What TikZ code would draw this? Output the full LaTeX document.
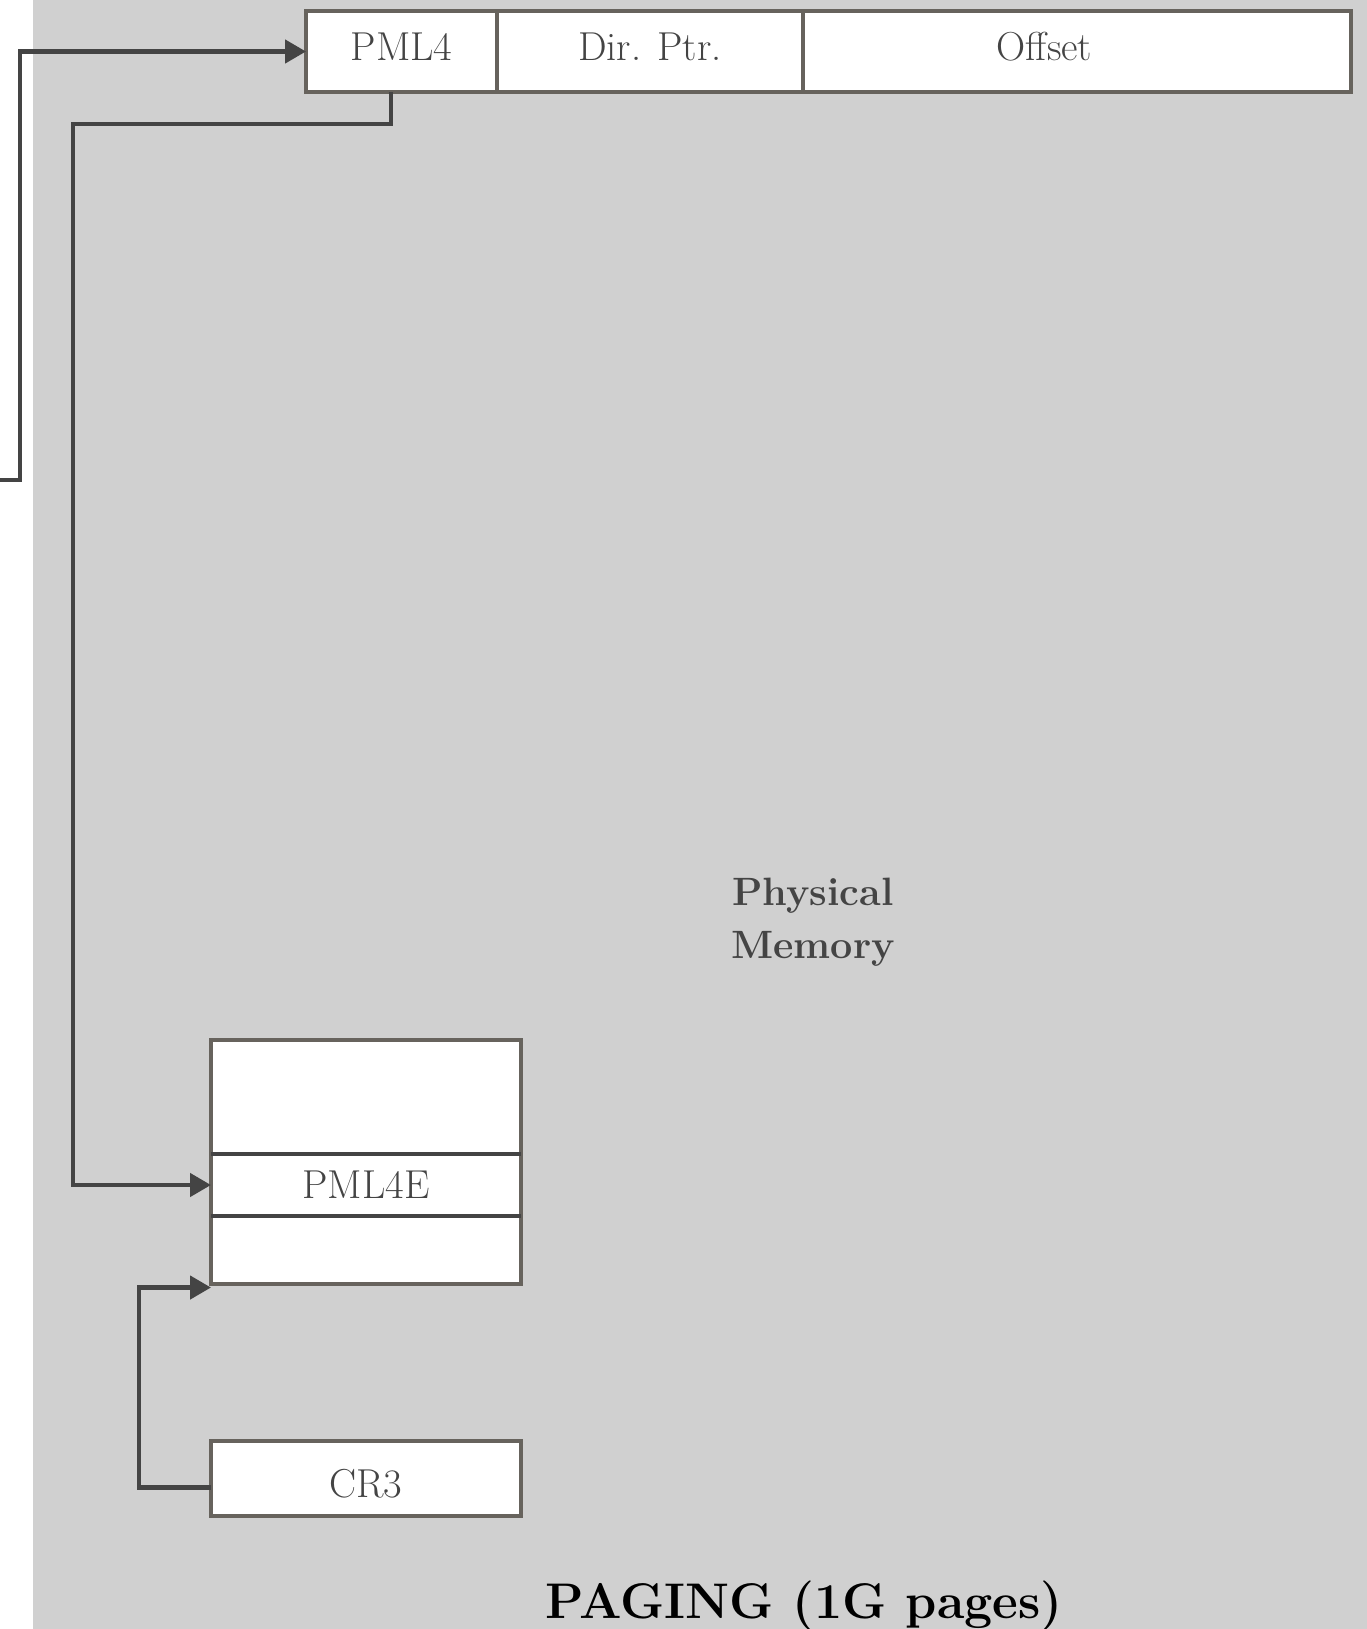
\documentclass[tikz,border=0pt]{standalone}
\usepackage{fontspec}
\usetikzlibrary{arrows.meta,positioning}
\definecolor{bggray}{HTML}{D0D0D0}
\definecolor{edgegray}{HTML}{67635D}
\definecolor{linegray}{HTML}{444444}
\begin{document}
\begin{tikzpicture}[
  field/.style={rectangle, draw=edgegray, fill=white, line width=2.4pt, outer sep=0pt, minimum height=1.62cm, inner sep=0pt, text depth=0.2cm, text=linegray, font=\fontsize{23}{28}\selectfont},
  table/.style={rectangle, draw=edgegray, fill=white, line width=2.4pt, outer sep=0pt, minimum width=6.2cm, inner sep=0pt},
  entry/.style={rectangle, minimum width=6.2cm, minimum height=1.24cm, inner sep=0pt, outer sep=0pt, text=linegray, font=\fontsize{23}{28}\selectfont},
  rule/.style={draw=linegray, line width=2.4pt},
  arr/.style={draw=linegray, line width=2.6pt, -{Triangle[length=0.42cm, width=0.46cm]}},
]
  \useasboundingbox (0,0) rectangle (27.34,-32.58);
  \fill[bggray] (0.66,0) rectangle (27.34,-32.58);

  \node[field, minimum width=3.82cm] (pml) at (8.03,-1.03) {PML4};
  \node[field, minimum width=6.12cm, right=0pt of pml] (dir) {Dir. Ptr.};
  \node[field, minimum width=10.96cm, right=0pt of dir] (off) {\hspace*{-1.3cm}Offset};

  \node[table, minimum height=4.88cm] (tbl) at (7.32,-23.24) {};
  \node[entry] (ent) at (7.32,-23.70) {PML4E};
  \draw[rule] (ent.north west) -- (ent.north east);
  \draw[rule] (ent.south west) -- (ent.south east);

  \node[field, minimum width=6.2cm, minimum height=1.51cm, text depth=0pt, text height=0.75cm] (cr3) at (7.32,-29.57) {CR3};

  \node[font=\bfseries\fontsize{22.5}{30}\selectfont, text=linegray, align=center] (mem) at (16.26,-18.45) {Physical\\Memory};
  \node[font=\bfseries\fontsize{28.5}{34}\selectfont, anchor=base] (title) at (16.08,-32.36) {PAGING (1G pages)};

  \coordinate (va) at (0,-9.60);
  \draw[arr] (va) -- ++(0.40,0) |- (pml.west);
  \draw[arr] ([xshift=-6pt]pml.south) |- (1.46,-2.48) |- (ent.west);
  \draw[arr] ([yshift=-5pt]cr3.west) -- ++(-1.44,0) |- ([yshift=-2pt]tbl.south west);
\end{tikzpicture}
\end{document}
